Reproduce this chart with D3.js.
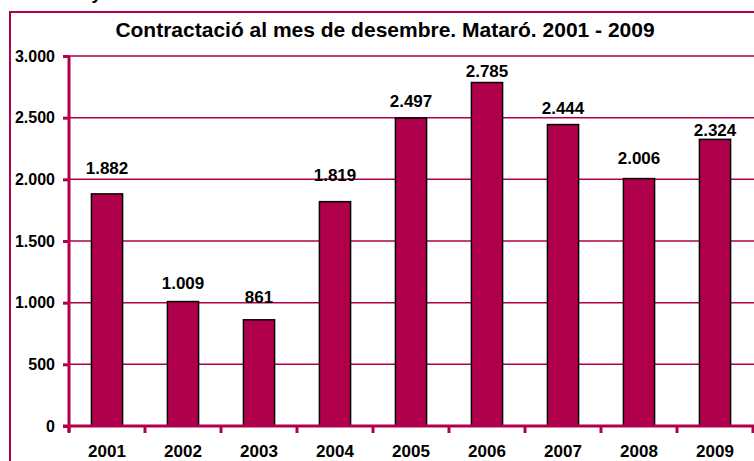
<!DOCTYPE html>
<html>
<head>
<meta charset="utf-8">
<script src="https://cdn.jsdelivr.net/npm/d3@7"></script>
<style>
  body { margin: 0; background: #fff; }
  svg text { font-family: "Liberation Sans", Arial, sans-serif; font-weight: bold; }
</style>
</head>
<body>
<div id="chart"></div>
<script>
// data
const years = ["2001", "2002", "2003", "2004", "2005", "2006", "2007", "2008", "2009"];
const contracts = [1882, 1009, 861, 1819, 2497, 2785, 2444, 2006, 2324];
const yTicks = [0, 500, 1000, 1500, 2000, 2500, 3000];

// label offset above each bar top (px), as placed in the original
const labelGap = [20, 13, 17, 21, 11, 6, 11, 15, 3];

const W = 754, H = 461;
const crimson = "#b0004c";
const fmt = v => d3.format(",")(v).replace(/,/g, ".");

const svg = d3.select("#chart")
    .append("svg")
    .attr("width", W)
    .attr("height", H);

// cut-off text above the chart frame
svg.append("text")
    .attr("x", 93).attr("y", -1)
    .style("font-size", "18px")
    .style("font-style", "italic")
    .text("y");

// outer frame (runs off the right and bottom edge)
svg.append("rect")
    .attr("x", 10).attr("y", 12)
    .attr("width", W + 20).attr("height", H + 20)
    .attr("fill", "none")
    .attr("stroke", crimson)
    .attr("stroke-width", 2);

svg.append("text")
    .attr("x", 385).attr("y", 37)
    .attr("text-anchor", "middle")
    .style("font-size", "21px")
    .text("Contractació al mes de desembre. Mataró. 2001 - 2009");

const x = d3.scaleBand()
    .domain(years)
    .range([69, 753])
    .paddingInner(0.59)
    .paddingOuter(0.295);

const y = d3.scaleLinear()
    .domain([0, 3000])
    .range([426, 56]);

// gridlines
svg.append("g")
    .selectAll("line")
    .data(yTicks.slice(1))
    .join("line")
    .attr("x1", 69).attr("x2", W)
    .attr("y1", d => y(d)).attr("y2", d => y(d))
    .attr("stroke", crimson)
    .attr("stroke-width", 1.5);

// Y axis
const yAxis = svg.append("g")
    .attr("transform", "translate(69,0)")
    .call(d3.axisLeft(y).tickValues(yTicks).tickFormat(fmt).tickSize(6).tickPadding(8));
yAxis.select(".domain").attr("stroke", crimson).attr("stroke-width", 3)
    .attr("d", `M0,${y(3000)}V${y(0) + 6}`);
yAxis.selectAll(".tick line").attr("stroke", crimson).attr("stroke-width", 3);
yAxis.selectAll(".tick text").attr("fill", "#000").style("font-size", "16px")
    .style("font-family", "'Liberation Sans', Arial, sans-serif").style("font-weight", "bold");

// bars
svg.append("g")
    .selectAll("rect")
    .data(years)
    .join("rect")
    .attr("x", d => x(d))
    .attr("y", (d, i) => y(contracts[i]))
    .attr("width", x.bandwidth())
    .attr("height", (d, i) => y(0) - y(contracts[i]))
    .attr("fill", crimson)
    .attr("stroke", "#000")
    .attr("stroke-width", 1.5);

// X axis with ticks between categories
const step = x.step();
svg.append("line")
    .attr("x1", 63).attr("x2", W)
    .attr("y1", y(0)).attr("y2", y(0))
    .attr("stroke", crimson).attr("stroke-width", 3);
svg.append("g")
    .selectAll("line")
    .data(d3.range(years.length + 1))
    .join("line")
    .attr("x1", i => 69 + i * step).attr("x2", i => 69 + i * step)
    .attr("y1", y(0)).attr("y2", y(0) + 7)
    .attr("stroke", crimson).attr("stroke-width", 3);

svg.append("g")
    .selectAll("text")
    .data(years)
    .join("text")
    .attr("x", d => x(d) + x.bandwidth() / 2)
    .attr("y", 457)
    .attr("text-anchor", "middle")
    .style("font-size", "17px")
    .text(d => d);

// value labels
svg.append("g")
    .selectAll("text")
    .data(years)
    .join("text")
    .attr("x", d => x(d) + x.bandwidth() / 2)
    .attr("y", (d, i) => y(contracts[i]) - labelGap[i])
    .attr("text-anchor", "middle")
    .style("font-size", "17px")
    .text((d, i) => fmt(contracts[i]));
</script>
</body>
</html>
